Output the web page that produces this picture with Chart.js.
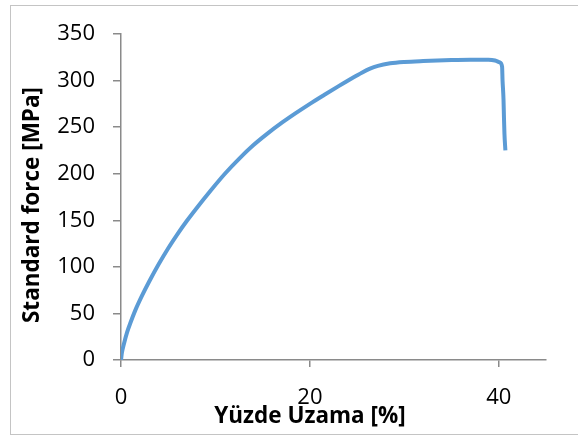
<!DOCTYPE html>
<html>
<head>
<meta charset="utf-8">
<script src="https://cdn.jsdelivr.net/npm/chart.js@4"></script>
<style>
    html, body { margin: 0; padding: 0; background: #fff; }
    #wrap { width: 578px; height: 437px; position: relative; }
</style>
</head>
<body>
<div id="wrap"><canvas id="stressChart" width="578" height="437"></canvas></div>
<script>
// Data
const strain = [0, 0.1, 0.3, 0.65, 1.0, 1.5, 2.2, 3.0, 4.0, 5.0, 6.0, 7.0, 8.0, 9.5, 11.0, 12.5, 14.0, 15.5, 17.0, 18.5, 20.0, 21.5, 23.0, 24.5, 25.5, 26.3, 27.2, 28.5, 30, 32, 35, 37, 38.9, 39.6, 40.1, 40.35, 40.4, 40.5, 40.55, 40.6, 40.7];
const stress = [0, 8, 17, 30, 40, 53, 68.5, 84.5, 103, 120, 135.5, 149.8, 163, 182, 200, 216, 230.5, 243, 254.5, 265, 275, 284.5, 293.8, 302.8, 308.5, 312.5, 315.8, 318.5, 320, 321, 322, 322.3, 322.3, 321.5, 319.5, 315, 300, 280, 260, 243, 225];

const xTickValues = [0, 20, 40];
const yMax = 350;
const yStep = 50;
const xMax = 45;

const xTitle = 'Yüzde Uzama [%]';
const yTitle = 'Standard force [MPa]';

const points = strain.map((x, i) => ({ x: x, y: stress[i] }));

// Outer frame + axis titles (offset like the original)
const framePlugin = {
    id: 'frame',
    beforeDraw(chart) {
        const ctx = chart.ctx;
        ctx.save();
        ctx.fillStyle = '#fff';
        ctx.fillRect(0, 0, chart.width, chart.height);
        ctx.strokeStyle = '#c4c4c4';
        ctx.lineWidth = 1;
        ctx.strokeRect(10.5, 5.5, 620, 429);
        ctx.restore();
    },
    afterDraw(chart) {
        const ctx = chart.ctx;
        ctx.save();
        ctx.fillStyle = '#000';
        ctx.font = 'bold 22.5px "Open Sans"';
        ctx.textAlign = 'center';
        ctx.textBaseline = 'middle';
        ctx.fillText(xTitle, 310, 417);
        ctx.translate(33, 205);
        ctx.rotate(-Math.PI / 2);
        ctx.fillText(yTitle, 0, 0);
        ctx.restore();
    }
};

const ctx = document.getElementById('stressChart').getContext('2d');
new Chart(ctx, {
    type: 'line',
    data: {
        datasets: [{
            data: points,
            borderColor: '#5b9bd5',
            borderWidth: 4,
            pointRadius: 0,
            fill: false,
            cubicInterpolationMode: 'monotone'
        }]
    },
    options: {
        responsive: false,
        animation: false,
        layout: { padding: { left: 0, top: 34, right: 32, bottom: 0 } },
        plugins: {
            legend: { display: false },
            tooltip: { enabled: false }
        },
        scales: {
            x: {
                type: 'linear',
                min: 0,
                max: xMax,
                afterBuildTicks: (scale) => {
                    scale.ticks = xTickValues.map(v => ({ value: v }));
                },
                afterFit: (scale) => { scale.height = 77; },
                grid: { drawOnChartArea: false, tickLength: 7, color: '#8a8a8a', lineWidth: 1.5 },
                border: { color: '#8a8a8a', width: 1.5 },
                ticks: { color: '#000', font: { family: 'Open Sans', size: 22 }, padding: 18, maxRotation: 0 }
            },
            y: {
                min: 0,
                max: yMax,
                ticks: { stepSize: yStep, color: '#000', font: { family: 'Open Sans', size: 22 }, padding: 18 },
                afterFit: (scale) => { scale.width = 121; },
                grid: { drawOnChartArea: false, tickLength: 8, color: '#8a8a8a', lineWidth: 1.5 },
                border: { color: '#8a8a8a', width: 1.5 }
            }
        }
    },
    plugins: [framePlugin]
});
</script>
</body>
</html>
